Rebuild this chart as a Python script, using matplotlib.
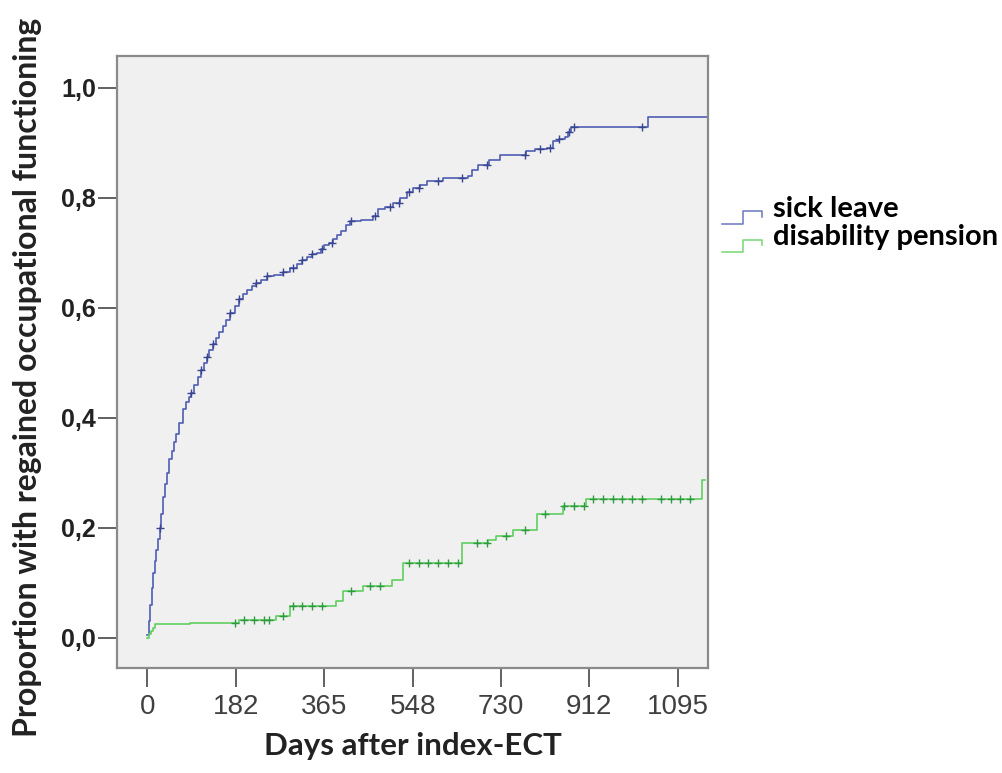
import numpy as np
import matplotlib
matplotlib.use("Agg")
import matplotlib.pyplot as plt
from matplotlib.lines import Line2D
from matplotlib.legend_handler import HandlerBase

# Kaplan-Meier style step data (days, cumulative proportion)
sick_days = [0, 3, 6, 9, 12, 15, 18, 21, 25, 28, 32, 36, 40, 45, 50, 55, 60, 66,
             73, 80, 86, 91, 97, 104, 111, 117, 122, 128, 135, 142, 148, 155, 162,
             170, 180, 190, 198, 205, 215, 225, 235, 246, 262, 280, 294, 308, 320,
             330, 340, 349, 358, 365, 375, 383, 392, 400, 410, 418, 440, 465, 476,
             490, 507, 521, 535, 548, 562, 576, 610, 661, 670, 682, 705, 727, 782,
             800, 824, 837, 850, 862, 868, 875, 1033, 1155]
sick_vals = [0.005, 0.03, 0.06, 0.09, 0.118, 0.14, 0.16, 0.18, 0.2, 0.225, 0.255,
             0.28, 0.30, 0.324, 0.34, 0.355, 0.37, 0.39, 0.415, 0.428, 0.437, 0.445,
             0.46, 0.474, 0.487, 0.50, 0.511, 0.522, 0.533, 0.545, 0.556, 0.566,
             0.578, 0.591, 0.603, 0.615, 0.625, 0.632, 0.64, 0.645, 0.651, 0.657,
             0.66, 0.665, 0.672, 0.68, 0.686, 0.692, 0.697, 0.70, 0.707, 0.713,
             0.718, 0.724, 0.732, 0.74, 0.75, 0.757, 0.76, 0.766, 0.78, 0.783, 0.79,
             0.80, 0.81, 0.818, 0.823, 0.83, 0.835, 0.84, 0.85, 0.86, 0.868, 0.878,
             0.884, 0.888, 0.89, 0.902, 0.906, 0.91, 0.92, 0.929, 0.947, 0.947]
sick_censor = [25, 91, 111, 122, 135, 170, 190, 225, 246, 280, 300, 320, 340, 360,
               380, 420, 470, 500, 520, 540, 560, 600, 650, 700, 780, 810, 830, 850,
               870, 880, 1020]

dis_days = [0, 4, 8, 12, 15, 87, 190, 266, 294, 390, 404, 445, 504, 528, 650, 703,
            720, 755, 803, 858, 906, 1144, 1150]
dis_vals = [0.0, 0.006, 0.012, 0.018, 0.024, 0.026, 0.032, 0.04, 0.057, 0.066, 0.084,
            0.093, 0.105, 0.136, 0.172, 0.178, 0.184, 0.196, 0.224, 0.239, 0.252,
            0.287, 0.287]
dis_censor = [180, 200, 220, 240, 250, 280, 300, 320, 340, 360, 420, 460, 480, 540,
              560, 580, 600, 620, 640, 680, 700, 740, 780, 820, 860, 880, 900, 920,
              940, 960, 980, 1000, 1020, 1060, 1080, 1100, 1120]

x_ticks = [0, 182, 365, 548, 730, 912, 1095]
y_ticks = [0.0, 0.2, 0.4, 0.6, 0.8, 1.0]
y_ticklabels = ["0,0", "0,2", "0,4", "0,6", "0,8", "1,0"]

blue = "#4f5db2"
green = "#5fd05f"


def step_at(days, vals, t):
    idx = np.searchsorted(days, t, side="right") - 1
    return np.asarray(vals)[idx]


class StepHandler(HandlerBase):
    # little step glyph like the SPSS survival legend
    def create_artists(self, legend, orig_handle, xdescent, ydescent,
                       width, height, fontsize, trans):
        w, h = width, height
        xs = [-xdescent, 0.52 * w, 0.52 * w, w, w]
        ys = [-0.34 * h, -0.34 * h, 0.25 * h, 0.25 * h, 0.0]
        ln = Line2D(xs, ys, color=orig_handle.get_color(), lw=1.1, alpha=0.85,
                    transform=trans)
        return [ln]


fig = plt.figure(figsize=(10.03, 7.73), dpi=100)
ax = fig.add_axes([0.117, 0.136, 0.589, 0.792])
ax.set_facecolor("#f0f0f0")

l1, = ax.step(sick_days, sick_vals, where="post", color=blue, lw=1.2)
l2, = ax.step(dis_days, dis_vals, where="post", color=green, lw=1.2)
ax.plot(sick_censor, step_at(sick_days, sick_vals, sick_censor), "+",
        color="#3a4590", ms=6, mew=1.0)
ax.plot(dis_censor, step_at(dis_days, dis_vals, dis_censor), "+",
        color="#2f9a3f", ms=6, mew=1.0)

ax.set_xlim(-62, 1157)
ax.set_ylim(-0.055, 1.058)
ax.set_xticks(x_ticks)
ax.set_xticklabels([str(v) for v in x_ticks], fontsize=20, color="#404040",
                   family="Liberation Sans")
ax.set_yticks(y_ticks)
ax.set_yticklabels(y_ticklabels, fontsize=18, fontweight="bold", color="#222222",
                   family="Liberation Sans")
ax.tick_params(axis="x", direction="out", length=13.5, width=1.3, color="#555555",
               pad=5)
ax.tick_params(axis="y", direction="out", length=14, width=1.3, color="#555555",
               pad=1.5)
for s in ax.spines.values():
    s.set_color("#8a8a8a")
    s.set_linewidth(1.6)

ax.set_xlabel("Days after index-ECT", fontsize=22.5, fontweight="bold",
              family="Lato", color="#222222")
ax.xaxis.set_label_coords(0.5, -0.104)
ax.set_ylabel("Proportion with regained occupational functioning", fontsize=23,
              fontweight="bold", family="Lato", color="#222222")
ax.yaxis.set_label_coords(-0.127, 0.475)

leg = fig.legend([l1, l2], ["sick leave", "disability pension"],
                 handler_map={Line2D: StepHandler()},
                 loc="upper left", bbox_to_anchor=(0.72, 0.747),
                 frameon=False, handlelength=1.37, handletextpad=0.38,
                 labelspacing=0.07, borderpad=0, borderaxespad=0,
                 prop={"family": "Lato", "weight": "bold", "size": 21})

fig.savefig("out.png", dpi=100, facecolor="white")
